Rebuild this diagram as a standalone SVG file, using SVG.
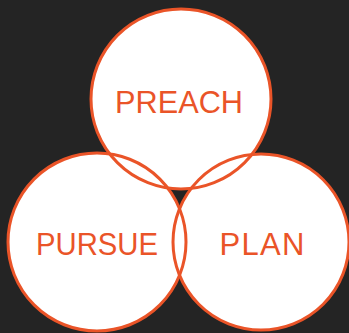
<svg xmlns="http://www.w3.org/2000/svg" width="349" height="333" viewBox="0 0 349 333">
<style>
.fill{fill:#ffffff;stroke:none}
.ring{fill:none;stroke:#EA5428;stroke-width:3}
.lbl{font-family:"Liberation Sans","Lato",sans-serif;font-size:31px;fill:#EA5428;text-anchor:middle}
</style>
<rect width="349" height="333" fill="#242424"/>
<g id="fills">
<circle class="fill" cx="181" cy="99" r="90"/>
<circle class="fill" cx="97" cy="242" r="89"/>
<circle class="fill" cx="261" cy="242" r="88"/>
</g>
<g id="connectors">
<circle class="ring" cx="181" cy="99" r="90"/>
<circle class="ring" cx="97" cy="242" r="89"/>
<circle class="ring" cx="261" cy="242" r="88"/>
</g>
<g id="preach"><text class="lbl" x="179" y="113" textLength="128" lengthAdjust="spacingAndGlyphs">PREACH</text></g>
<g id="pursue"><text class="lbl" x="97" y="255" textLength="122" lengthAdjust="spacingAndGlyphs">PURSUE</text></g>
<g id="plan"><text class="lbl" x="262" y="255" textLength="85" lengthAdjust="spacing">PLAN</text></g>
</svg>
